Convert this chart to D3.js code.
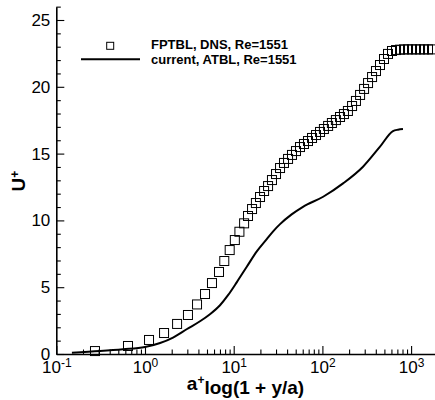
<!DOCTYPE html>
<html>
<head>
<meta charset="utf-8">
<script src="https://cdn.jsdelivr.net/npm/d3@7"></script>
<style>
  body { margin: 0; background: #fff; }
  svg { display: block; font-family: Arial, "Liberation Sans", sans-serif; }
</style>
</head>
<body>
<script>
// DNS (squares)
var dnsX = [0.273, 0.643, 1.11, 1.64, 2.30, 3.05, 3.86, 4.75, 5.69, 6.83, 7.83, 9.01, 10.3, 11.6, 13.1,
  14.5, 16.1, 17.8, 19.8, 22.0, 24.4, 27.0, 30.0, 33.3, 36.9, 41.0, 45.4, 50.4, 55.9, 62.0, 68.8, 76.4,
  84.7, 94.0, 104, 116, 128, 142, 158, 175, 194, 216, 239, 266, 295, 327, 363, 402, 446, 495, 549, 609,
  676, 750, 832, 923, 1024, 1136, 1261, 1398, 1551, 1721];
var dnsU = [0.22, 0.60, 1.05, 1.57, 2.25, 2.92, 3.71, 4.49, 5.31, 6.14, 6.96, 7.78, 8.53, 9.15, 9.78,
  10.33, 10.85, 11.30, 11.75, 12.20, 12.57, 13.02, 13.47, 13.92, 14.30, 14.60, 14.90, 15.19, 15.49, 15.72,
  15.94, 16.17, 16.39, 16.62, 16.84, 17.07, 17.29, 17.51, 17.74, 17.96, 18.19, 18.56, 18.94, 19.39, 19.84,
  20.28, 20.73, 21.18, 21.63, 22.08, 22.46, 22.68, 22.75, 22.78, 22.8, 22.8, 22.8, 22.8, 22.8, 22.8, 22.8, 22.8];

// current model (solid line)
var atblX = [0.15, 0.311, 0.565, 1.0, 1.48, 2.07, 2.98, 4.17, 5.40, 7.01, 8.63, 10.9, 14.1, 18.3, 23.7,
  28.0, 33.3, 45.0, 60.4, 102, 171, 287, 446, 625, 711, 810];
var atblU = [0.10, 0.22, 0.35, 0.52, 0.82, 1.23, 1.87, 2.45, 2.98, 3.65, 4.40, 5.40, 6.55, 7.70, 8.62,
  9.20, 9.72, 10.45, 11.02, 11.77, 12.77, 14.02, 15.52, 16.69, 16.79, 16.84];

var yMajor = [0, 5, 10, 15, 20, 25];
var yMinor = [1, 2, 3, 4, 6, 7, 8, 9, 11, 12, 13, 14, 16, 17, 18, 19, 21, 22, 23, 24, 26];
var xMajor = [0.1, 1, 10, 100, 1000];
var xMinor = [0.2, 0.3, 0.4, 0.5, 0.6, 0.7, 0.8, 0.9, 2, 3, 4, 5, 6, 7, 8, 9,
  20, 30, 40, 50, 60, 70, 80, 90, 200, 300, 400, 500, 600, 700, 800, 900];
var legendLabels = ["FPTBL, DNS, Re=1551", "current, ATBL, Re=1551"];

var svgWidth = 435;
var svgHeight = 400;

var svg = d3.select("body")
  .append("svg")
  .attr("width", svgWidth)
  .attr("height", svgHeight);

var x = d3.scaleLog()
  .domain([0.1, 1850])
  .range([56.3, 56.3 + 88.7 * Math.log10(18500)]);

var y = d3.scaleLinear()
  .domain([0, 26])
  .range([354, 354 - 26 * 13.36]);

// axes, ticks pointing inwards
var yAxisG = svg.append("g")
  .attr("transform", `translate(${x.range()[0]},0)`)
  .call(d3.axisLeft(y).tickValues(yMajor).tickSizeInner(-8).tickSizeOuter(0).tickPadding(6));

svg.append("g")
  .attr("transform", `translate(${x.range()[0]},0)`)
  .call(d3.axisLeft(y).tickValues(yMinor).tickSizeInner(-4.5).tickSizeOuter(0).tickFormat(""))
  .select(".domain").remove();

var xAxisG = svg.append("g")
  .attr("transform", `translate(0,${y(0)})`)
  .call(d3.axisBottom(x).tickValues(xMajor).tickSizeInner(-8).tickSizeOuter(0).tickPadding(7));

svg.append("g")
  .attr("transform", `translate(0,${y(0)})`)
  .call(d3.axisBottom(x).tickValues(xMinor).tickSizeInner(-4.5).tickSizeOuter(0).tickFormat(""))
  .select(".domain").remove();

svg.selectAll(".domain").attr("stroke", "#000").attr("stroke-width", 1.6);
svg.selectAll(".tick line").attr("stroke", "#000").attr("stroke-width", 1.1);

yAxisG.selectAll(".tick text")
  .attr("font-size", "17px")
  .attr("font-family", "Arial, 'Liberation Sans', sans-serif")
  .attr("fill", "#000");

// powers of ten with superscripts
xAxisG.selectAll(".tick text")
  .attr("font-size", "17px")
  .attr("font-family", "Arial, 'Liberation Sans', sans-serif")
  .attr("fill", "#000")
  .text(null)
  .each(function(d) {
    var t = d3.select(this);
    t.append("tspan").text("10");
    t.append("tspan")
      .attr("dy", "-0.5em")
      .attr("font-size", "12px")
      .text(String(Math.round(Math.log10(d))).replace("\u2212", "-"));
  });

// model line
var line = d3.line()
  .x(d => x(d[0]))
  .y(d => y(d[1]))
  .curve(d3.curveMonotoneX);

svg.append("path")
  .datum(atblX.map((v, i) => [v, atblU[i]]))
  .attr("d", line)
  .attr("fill", "none")
  .attr("stroke", "#000")
  .attr("stroke-width", 2);

// DNS squares
var s = 9;
svg.selectAll(".dns")
  .data(dnsX.map((v, i) => [v, dnsU[i]]))
  .enter()
  .append("rect")
  .classed("dns", true)
  .attr("x", d => x(d[0]) - s / 2)
  .attr("y", d => y(d[1]) - s / 2)
  .attr("width", s)
  .attr("height", s)
  .attr("fill", "none")
  .attr("stroke", "#000")
  .attr("stroke-width", 1);

// legend
var legend = svg.append("g");
legend.append("rect")
  .attr("x", 106.7).attr("y", 42.3)
  .attr("width", 7).attr("height", 7)
  .attr("fill", "none").attr("stroke", "#000").attr("stroke-width", 1);
legend.append("line")
  .attr("x1", 81).attr("x2", 140)
  .attr("y1", 59.3).attr("y2", 59.3)
  .attr("stroke", "#000").attr("stroke-width", 2);
legend.selectAll("text")
  .data(legendLabels)
  .enter()
  .append("text")
  .attr("x", 151)
  .attr("y", (d, i) => 49 + i * 14.5)
  .attr("font-size", "13px")
  .attr("font-weight", "bold")
  .text(d => d);

// axis titles
var xTitle = svg.append("text")
  .attr("x", 245.5)
  .attr("y", 390)
  .attr("text-anchor", "middle")
  .attr("font-size", "19px")
  .attr("font-weight", "bold");
xTitle.append("tspan").text("a");
xTitle.append("tspan").attr("dy", "-0.5em").attr("font-size", "12px").text("+");
xTitle.append("tspan").attr("dy", "0.5em").text("log(1 + y/a)");

var yTitle = svg.append("text")
  .attr("transform", "translate(25,181) rotate(-90)")
  .attr("text-anchor", "middle")
  .attr("font-size", "19px")
  .attr("font-weight", "bold");
yTitle.append("tspan").text("U");
yTitle.append("tspan").attr("dy", "-0.5em").attr("font-size", "12px").text("+");
</script>
</body>
</html>
